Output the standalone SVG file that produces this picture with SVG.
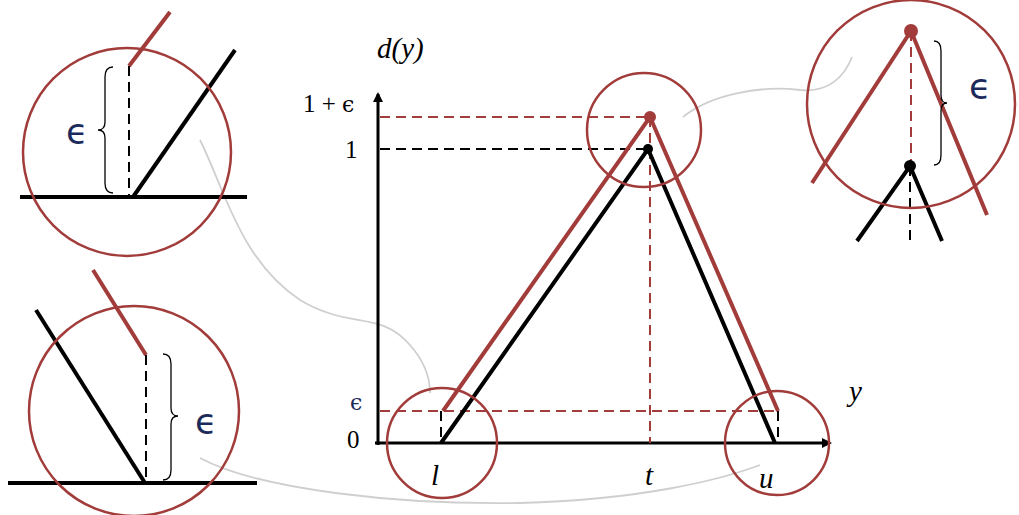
<svg xmlns="http://www.w3.org/2000/svg" width="1019" height="515" viewBox="0 0 1019 515">
<defs>
<style>
.red{stroke:#a13c3a;fill:none;stroke-width:4;stroke-linecap:butt}
.blk{stroke:#000;fill:none;stroke-width:4}
.axis{stroke:#000;fill:none;stroke-width:3}
.circ{stroke:#a13c3a;fill:none;stroke-width:2.5}
.rdash{stroke:#a13c3a;fill:none;stroke-width:2;stroke-dasharray:10,6}
.bdash{stroke:#000;fill:none;stroke-width:2;stroke-dasharray:10,6}
.brace{stroke:#000;fill:none;stroke-width:1.3}
.conn{stroke:#cfcfcf;fill:none;stroke-width:1.8}
.lbl{font-family:"Liberation Serif",serif;font-style:italic;font-size:29px;fill:#000}
.num{font-family:"Liberation Serif",serif;font-size:25px;fill:#000}
.eps{font-family:"DejaVu Serif",serif;font-size:22px;fill:#1b2a5a}
.epsbig{font-family:"DejaVu Sans",sans-serif;font-size:36px;fill:#1b2a5a}
</style>
<marker id="arr" markerWidth="10" markerHeight="10" refX="8" refY="5" orient="auto" markerUnits="userSpaceOnUse">
<path d="M0,0 L10,5 L0,10 Z" fill="#000"/>
</marker>
</defs>
<rect width="1019" height="515" fill="#fff"/>

<g id="connectors">
<path class="conn" d="M683,117 C710,95 760,85 800,90 C830,93 845,75 852,57"/>
<path class="conn" d="M200,140 C225,190 240,260 300,300 C350,330 380,310 410,345 C425,362 430,380 430,393"/>
<path class="conn" d="M200,458 C260,490 400,505 520,503 C640,500 720,480 760,465"/>
</g>

<g id="chart">
<line class="axis" x1="378" y1="445" x2="378" y2="94" marker-end="url(#arr)"/>
<line class="axis" x1="375" y1="443" x2="830" y2="443" marker-end="url(#arr)"/>
<line class="rdash" x1="380" y1="117" x2="648" y2="117"/>
<line class="bdash" x1="380" y1="149" x2="646" y2="149"/>
<line class="rdash" x1="380" y1="411" x2="778" y2="411"/>
<line class="rdash" x1="650" y1="117" x2="650" y2="443"/>
<line class="bdash" x1="441" y1="411" x2="441" y2="443"/>
<line class="bdash" x1="778" y1="411" x2="778" y2="443"/>
<polyline class="blk" points="441,443 648,149 775,443"/>
<polyline class="red" points="443,411 650,117 778,411"/>
<circle cx="648" cy="149" r="5" fill="#000"/>
<circle cx="650" cy="117" r="6" fill="#a13c3a"/>
<text class="lbl" x="377" y="58" font-size="27">d(y)</text>
<text class="num" x="303" y="112" font-size="26">1 + <tspan font-family="DejaVu Serif" font-size="22">ϵ</tspan></text>
<text class="num" x="345" y="158" font-size="26">1</text>
<text class="eps" x="350" y="410">ϵ</text>
<text class="num" x="347" y="448">0</text>
<text class="lbl" x="849" y="401">y</text>
<text class="lbl" x="431" y="485">l</text>
<text class="lbl" x="645" y="485">t</text>
<text class="lbl" x="759" y="488">u</text>
</g>

<g id="zoom-top">
<circle class="circ" cx="644" cy="130" r="57"/>
</g>
<g id="zoom-left">
<circle class="circ" cx="442" cy="443" r="55"/>
</g>
<g id="zoom-right">
<circle class="circ" cx="777" cy="443" r="52"/>
</g>

<g id="inset-left-top">
<line class="blk" x1="20" y1="197" x2="247" y2="197" stroke-width="3.5"/>
<line class="blk" x1="133" y1="197" x2="235" y2="50"/>
<line class="red" x1="129" y1="66" x2="170" y2="12"/>
<line class="bdash" x1="129" y1="66" x2="129" y2="197" stroke-width="2.2"/>
<path class="brace" d="M113,67 Q105,67 105,77 L105,122 Q105,130 98,130 Q105,130 105,138 L105,183 Q105,193 113,193"/>
<text class="epsbig" x="66" y="144">ϵ</text>
<circle class="circ" cx="127" cy="152" r="104"/>
</g>

<g id="inset-left-bottom">
<line class="blk" x1="8" y1="483" x2="257" y2="483" stroke-width="3.5"/>
<line class="blk" x1="36" y1="310" x2="145" y2="483"/>
<line class="red" x1="93" y1="270" x2="146" y2="355"/>
<line class="bdash" x1="146" y1="355" x2="146" y2="483" stroke-width="2.2"/>
<path class="brace" d="M163,354 Q171,354 171,364 L171,408 Q171,416 178,416 Q171,416 171,424 L171,470 Q171,480 163,480"/>
<text class="epsbig" x="195" y="434">ϵ</text>
<circle class="circ" cx="134" cy="411" r="105"/>
</g>

<g id="inset-right-top">
<line class="rdash" x1="911" y1="31" x2="911" y2="166" stroke-width="2.2"/>
<line class="bdash" x1="910" y1="166" x2="910" y2="241" stroke-width="2.2"/>
<polyline class="red" points="812,183 911,31 987,215"/>
<polyline class="blk" points="857,241 910,166 942,241"/>
<circle cx="911" cy="31" r="7" fill="#a13c3a"/>
<circle cx="910" cy="166" r="6" fill="#000"/>
<path class="brace" d="M934,41 Q941,41 941,51 L941,95 Q941,103 947,103 Q941,103 941,111 L941,155 Q941,165 934,165"/>
<text class="epsbig" x="969" y="99">ϵ</text>
<circle class="circ" cx="911" cy="104" r="104"/>
</g>
</svg>
